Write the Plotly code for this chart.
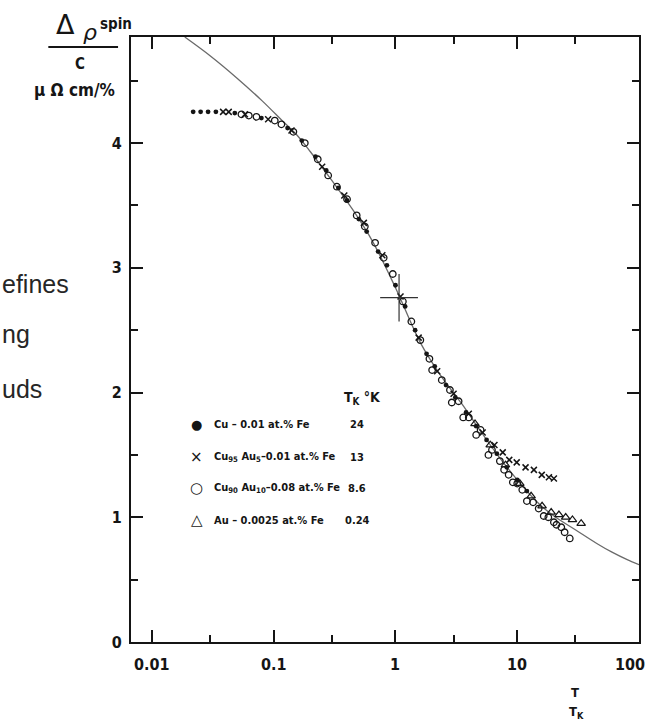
import math
import plotly.graph_objects as go

# ---------------- data ----------------
# Cu - 0.01 at.% Fe  (T_K = 24 K), filled dots
cufe_T = [0.0218, 0.0251, 0.0289, 0.0335, 0.0479, 0.0792, 0.13, 0.17, 0.22, 0.27, 0.34, 0.40,
          0.50, 0.58, 0.72, 0.85, 1.0, 1.2, 1.45, 1.8, 2.1, 2.6, 3.1, 3.8, 4.6, 5.6, 6.8, 8.2,
          10.0, 12.0]
cufe_y = [4.25, 4.25, 4.25, 4.25, 4.24, 4.20, 4.12, 4.02, 3.89, 3.78, 3.64, 3.54,
          3.39, 3.29, 3.13, 3.02, 2.86, 2.69, 2.50, 2.31, 2.21, 2.06, 1.96, 1.84, 1.73, 1.62,
          1.51, 1.40, 1.30, 1.21]

# Cu95Au5 - 0.01 at.% Fe  (T_K = 13 K), crosses
cuau5_T = [0.0384, 0.0427, 0.058, 0.09, 0.14, 0.25, 0.38, 0.55, 0.78, 1.1, 1.55, 2.2, 3.0,
           4.0, 5.2, 6.5, 7.6, 8.6, 9.9, 11.7, 13.7, 15.9, 18.2, 20.0]
cuau5_y = [4.25, 4.25, 4.23, 4.19, 4.10, 3.81, 3.58, 3.36, 3.10, 2.77, 2.44, 2.17, 1.99,
           1.83, 1.68, 1.58, 1.52, 1.46, 1.44, 1.40, 1.38, 1.34, 1.32, 1.31]

# Cu90Au10 - 0.08 at.% Fe  (T_K = 8.6 K), open circles
cuau10_T = [0.0543, 0.0624, 0.0721, 0.102, 0.1156, 0.145, 0.18, 0.23, 0.28, 0.33, 0.40, 0.48,
            0.56, 0.68, 0.80, 0.95, 1.15, 1.35, 1.6, 1.9, 2.0, 2.4, 2.8, 2.9, 3.3, 3.6, 4.0,
            4.6, 5.0, 5.8, 6.2, 7.2, 7.8, 8.5, 9.2, 10.0, 11.0, 12.0, 13.5, 15.0, 16.5, 18.0,
            20.0, 21.0, 23.0, 24.5, 27.0]
cuau10_y = [4.23, 4.22, 4.21, 4.18, 4.15, 4.09, 4.00, 3.87, 3.74, 3.65, 3.55, 3.42,
            3.33, 3.20, 3.08, 2.95, 2.73, 2.57, 2.42, 2.27, 2.18, 2.10, 2.02, 1.92, 1.93, 1.80,
            1.80, 1.66, 1.70, 1.50, 1.54, 1.45, 1.38, 1.34, 1.28, 1.27, 1.22, 1.13, 1.12, 1.07,
            1.01, 1.00, 0.96, 0.94, 0.92, 0.88, 0.83]

# Au - 0.0025 at.% Fe  (T_K = 0.24 K), open triangles
aufe_T = [4.5, 6.0, 8.0, 10.5, 13.0, 16.0, 19.0, 22.0, 25.0, 28.4, 33.5]
aufe_y = [1.75, 1.58, 1.42, 1.27, 1.17, 1.09, 1.04, 1.02, 1.00, 0.98, 0.95]

# theoretical curve
theory_T = [0.0186, 0.03, 0.05, 0.08, 0.12, 0.153, 0.2, 0.3, 0.45, 0.65, 1.0, 1.6, 2.3, 3.5,
            5.0, 7.0, 10.0, 15.0, 20.0, 30.0, 45.0, 60.0, 80.0, 100.0]
theory_y = [4.85, 4.70, 4.52, 4.34, 4.17, 4.07, 3.93, 3.70, 3.46, 3.21, 2.84, 2.40, 2.15, 1.91,
            1.69, 1.49, 1.30, 1.11, 1.01, 0.90, 0.79, 0.72, 0.66, 0.62]

# reference cross
cross_T = [1.07]
cross_y = [2.76]

# ticks
x_major = [0.01, 0.1, 1, 10, 100]
x_major_text = ["0.01", "0.1", "1", "10", "100"]
x_minor = [0.03, 0.3, 3, 30]
y_major = [0, 1, 2, 3, 4]
y_major_text = ["0", "1", "2", "3", "4"]
y_minor = [0.5, 1.5, 2.5, 3.5, 4.5]

# legend
legend_symbols = ["●", "×", "○", "△"]
legend_labels = ["Cu – 0.01 at.% Fe",
                 "Cu<sub>95</sub> Au<sub>5</sub>–0.01 at.% Fe",
                 "Cu<sub>90</sub> Au<sub>10</sub>–0.08 at.% Fe",
                 "Au – 0.0025 at.% Fe"]
legend_tk = ["24", "13", "8.6", "0.24"]

# ---------------- layout geometry ----------------
W, H = 651, 721
L, R, T, B = 131, 10, 37, 79
PW, PH = W - L - R, H - T - B


def px(xp):
    return (xp - L) / PW


def py(yp):
    return (H - B - yp) / PH


INK = "#151515"
NARROW = "Liberation Sans Narrow, DejaVu Sans Condensed, Arial Narrow, sans-serif"


def note(x, y, text, size, family=NARROW, bold=True, xanchor="center", color=INK):
    f = dict(family=family, size=size, color=color)
    if bold:
        f["weight"] = "bold"
    return dict(x=px(x), y=py(y), xref="paper", yref="paper", text=text, showarrow=False,
                xanchor=xanchor, yanchor="middle", font=f)


fig = go.Figure()

fig.add_trace(go.Scatter(x=theory_T, y=theory_y, mode="lines", line_shape="spline",
                         line=dict(color="#6a6a6a", width=1.3), showlegend=False,
                         hoverinfo="skip"))
fig.add_trace(go.Scatter(x=cuau10_T, y=cuau10_y, mode="markers", showlegend=False,
                         marker=dict(symbol="circle-open", size=6.5, color=INK,
                                     line=dict(width=1.3, color=INK))))
fig.add_trace(go.Scatter(x=aufe_T, y=aufe_y, mode="markers", showlegend=False,
                         marker=dict(symbol="triangle-up-open", size=7.5, color=INK,
                                     line=dict(width=1.2, color=INK))))
fig.add_trace(go.Scatter(x=cuau5_T, y=cuau5_y, mode="markers", showlegend=False,
                         marker=dict(symbol="x-thin", size=6, color=INK,
                                     line=dict(width=1.5, color=INK))))
fig.add_trace(go.Scatter(x=cufe_T, y=cufe_y, mode="markers", showlegend=False,
                         marker=dict(symbol="circle", size=4.8, color=INK)))
fig.add_trace(go.Scatter(x=cross_T, y=cross_y, mode="markers", showlegend=False,
                         marker=dict(symbol="line-ew", size=27, color=INK,
                                     line=dict(width=1.2, color="#333"))))
fig.add_trace(go.Scatter(x=cross_T, y=cross_y, mode="markers", showlegend=False,
                         marker=dict(symbol="line-ns", size=34, color=INK,
                                     line=dict(width=1.2, color="#333"))))

axis_common = dict(showline=True, linewidth=2, linecolor=INK, mirror="ticks",
                   ticks="inside", ticklen=12, tickwidth=1.6, tickcolor=INK,
                   showgrid=False, zeroline=False)

fig.update_xaxes(type="log", range=[-2 - (152 - L) / 122.0, 2.0],
                 tickvals=x_major, showticklabels=False,
                 minor=dict(tickmode="array", tickvals=x_minor, ticks="inside", ticklen=7,
                            tickwidth=1.5, tickcolor=INK, showgrid=False),
                 **axis_common)
fig.update_yaxes(range=[0, 4.85], tickvals=y_major, ticktext=y_major_text,
                 tickfont=dict(family=NARROW, size=16, color=INK, weight="bold"),
                 ticklabelstandoff=4,
                 minor=dict(tickmode="array", tickvals=y_minor, ticks="inside", ticklen=7,
                            tickwidth=1.5, tickcolor=INK, showgrid=False),
                 **axis_common)

ann = []
# x tick labels
for v, t in zip(x_major, x_major_text):
    ann.append(dict(x=math.log10(v), xref="x", y=py(664), yref="paper", text=t,
                    showarrow=False, xanchor="center", yanchor="middle",
                    xshift=-9 if v == 100 else 0,
                    font=dict(family=NARROW, size=16, color=INK, weight="bold")))

# x axis title  T / T_K
ann.append(note(577, 692, "T", 13))
ann.append(note(578, 712, "T<sub>K</sub>", 13))

# y axis title  Δρ^spin / C  μΩcm/%
ann.append(note(65, 25, "Δ", 27, family="DejaVu Sans", bold=False))
ann.append(note(90, 33, "<i>ρ</i>", 22, family="DejaVu Sans", bold=False))
ann.append(note(116, 24, "spin", 15))
ann.append(note(80, 64, "C", 15))
ann.append(note(74, 90, "μ Ω cm/%", 17))

# stray text fragments at left edge
for txt, yc in [("efines", 284), ("ng", 334), ("uds", 389)]:
    ann.append(note(-1, yc, txt, 25, family="Liberation Sans, Arial, sans-serif",
                    bold=False, xanchor="left", color="#262626"))

# legend block
ann.append(note(363, 398, "T<sub>K</sub> °K", 14))
rows = [425, 457, 488, 520]
for sym, lab, tk, yr in zip(legend_symbols, legend_labels, legend_tk, rows):
    ann.append(note(197, yr, sym, 15 if sym != "●" else 13, family="DejaVu Sans",
                    bold=False))
    ann.append(note(212, yr, lab, 11, xanchor="left"))
    ann.append(note(358, yr, tk, 11))

fig.update_layout(
    width=W, height=H,
    margin=dict(l=L, r=R, t=T, b=B),
    paper_bgcolor="white", plot_bgcolor="white",
    showlegend=False,
    annotations=ann,
    shapes=[dict(type="line", xref="paper", yref="paper", x0=px(48), x1=px(118),
                 y0=py(47), y1=py(47), line=dict(color=INK, width=2))],
)

fig.write_html("out.html", config={"displayModeBar": False},
               post_script="document.body.style.margin='0';")
